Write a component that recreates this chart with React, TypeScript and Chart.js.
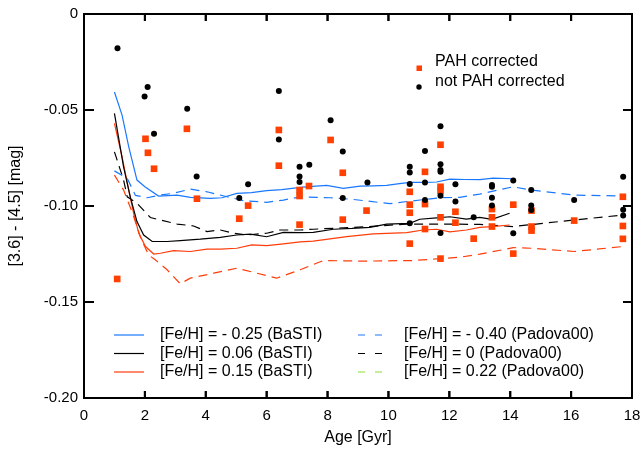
import React, { useEffect, useRef } from 'react';
import { Chart, registerables } from 'chart.js';

Chart.register(...registerables);

// ---- Data ----
const pahAges = [1.09, 2.02, 2.10, 2.30, 3.38, 3.71, 5.10, 5.39, 6.40, 6.40, 7.08, 7.08, 7.08, 7.39, 8.10, 8.50, 8.50, 9.28, 10.70, 10.70, 10.70, 10.70, 11.20, 11.20, 11.20, 11.71, 11.71, 11.71, 11.71, 11.71, 12.20, 12.20, 12.80, 13.40, 13.40, 13.40, 14.10, 14.10, 14.70, 14.70, 14.70, 16.10, 17.70, 17.70, 17.70];
const pahColors = [-0.138, -0.065, -0.0723, -0.0806, -0.0598, -0.0962, -0.1066, -0.0998, -0.0604, -0.079, -0.0917, -0.0948, -0.1097, -0.0896, -0.0656, -0.0827, -0.1071, -0.1024, -0.0926, -0.0993, -0.1035, -0.1196, -0.0822, -0.099, -0.112, -0.0681, -0.09, -0.0922, -0.1059, -0.1274, -0.103, -0.1087, -0.117, -0.1016, -0.1059, -0.1107, -0.0993, -0.1248, -0.1024, -0.1107, -0.1128, -0.1076, -0.0952, -0.1104, -0.1171];

const rawAges = [1.10, 1.99, 2.09, 2.30, 3.39, 3.70, 5.10, 5.39, 6.40, 6.40, 7.08, 7.08, 7.08, 7.40, 8.10, 8.50, 8.50, 9.31, 10.70, 10.70, 10.70, 10.70, 11.20, 11.20, 11.20, 11.71, 11.71, 11.71, 11.71, 11.71, 11.71, 12.20, 12.20, 12.80, 13.40, 13.40, 13.40, 13.40, 14.10, 14.10, 14.69, 14.69, 14.69, 16.10, 17.71, 17.71, 17.71];
const rawColors = [-0.0178, -0.043, -0.038, -0.0624, -0.0493, -0.0846, -0.0958, -0.0887, -0.0401, -0.0654, -0.0796, -0.0846, -0.0875, -0.0785, -0.0553, -0.0716, -0.0958, -0.0877, -0.0796, -0.0825, -0.0886, -0.109, -0.0714, -0.0877, -0.0969, -0.0584, -0.0783, -0.0813, -0.0822, -0.0946, -0.114, -0.0887, -0.0977, -0.1059, -0.089, -0.09, -0.0957, -0.0998, -0.0867, -0.1142, -0.0917, -0.0998, -0.1021, -0.0969, -0.0848, -0.1019, -0.105];

const bastiM025Ages = [1.0, 1.25, 1.47, 1.74, 2.0, 2.45, 3.06, 3.49, 4.15, 4.53, 5.02, 5.5, 6.0, 6.5, 7.1, 7.5, 7.97, 8.52, 9.07, 9.5, 9.94, 10.3, 10.7, 11.2, 11.58, 12.02, 12.5, 13.0, 13.44, 14.09];
const bastiM025Vals = [-0.0406, -0.0527, -0.0692, -0.0865, -0.090, -0.0948, -0.0943, -0.0955, -0.096, -0.0957, -0.0934, -0.093, -0.092, -0.0915, -0.0903, -0.0898, -0.0893, -0.0908, -0.0896, -0.0895, -0.0893, -0.0885, -0.0877, -0.0877, -0.0875, -0.086, -0.0862, -0.0863, -0.0855, -0.0858];

const basti006Ages = [1.0, 1.3, 1.52, 1.74, 1.96, 2.24, 2.73, 3.16, 3.82, 4.48, 5.02, 5.46, 6.0, 6.55, 7.1, 7.53, 8.19, 8.8, 9.39, 9.94, 10.7, 11.03, 11.58, 12.02, 12.56, 13.0, 13.4, 13.98];
const basti006Vals = [-0.0518, -0.0796, -0.0952, -0.1081, -0.1151, -0.1185, -0.1185, -0.118, -0.1173, -0.1163, -0.1151, -0.1147, -0.116, -0.1137, -0.1139, -0.1137, -0.1121, -0.1117, -0.1111, -0.1094, -0.109, -0.1069, -0.1062, -0.1056, -0.1068, -0.1059, -0.107, -0.1038];

const basti015Ages = [1.0, 1.25, 1.47, 1.63, 1.8, 2.02, 2.29, 2.51, 2.94, 3.49, 4.04, 4.48, 5.02, 5.51, 6.0, 6.55, 7.1, 7.53, 8.63, 9.5, 10.6, 11.14, 11.58, 12.02, 12.56, 13.0, 13.4, 13.98];
const basti015Vals = [-0.057, -0.0744, -0.0917, -0.1038, -0.1142, -0.1211, -0.125, -0.1246, -0.1232, -0.1237, -0.1225, -0.1225, -0.122, -0.1203, -0.1206, -0.1197, -0.1187, -0.1183, -0.116, -0.1145, -0.1139, -0.1125, -0.1121, -0.1135, -0.1125, -0.1111, -0.1107, -0.1099];

const padM040Ages = [1.0, 1.42, 1.69, 2.07, 2.51, 2.94, 3.49, 4.04, 4.7, 5.24, 6.0, 6.55, 7.1, 8.08, 8.8, 10.05, 10.7, 11.69, 12.34, 13.0, 14.09, 14.7, 16.1, 17.7];
const padM040Vals = [-0.0817, -0.0856, -0.0945, -0.0957, -0.0943, -0.0934, -0.0912, -0.0926, -0.0952, -0.0972, -0.0981, -0.0969, -0.0953, -0.0957, -0.0965, -0.0988, -0.0975, -0.0957, -0.0955, -0.0938, -0.09, -0.0917, -0.0943, -0.0948];

const pad000Ages = [1.0, 1.3, 1.42, 1.74, 2.18, 2.51, 3.06, 3.6, 4.04, 4.48, 4.91, 5.35, 6.0, 6.44, 7.1, 7.53, 9.28, 10.6, 11.9, 13.0, 14.09, 16.1, 17.7];
const pad000Vals = [-0.0718, -0.0865, -0.0952, -0.0986, -0.106, -0.1073, -0.1094, -0.1104, -0.1133, -0.1125, -0.1142, -0.1151, -0.1142, -0.1125, -0.1125, -0.1121, -0.1108, -0.1094, -0.1094, -0.1096, -0.1107, -0.1073, -0.1047];

const pad022Ages = [1.0, 1.3, 1.6, 1.85, 2.12, 2.34, 2.73, 3.16, 3.49, 4.26, 5.02, 5.68, 6.33, 7.1, 7.86, 9.17, 10.8, 12.34, 13.0, 14.1, 14.7, 16.1, 17.7];
const pad022Vals = [-0.0839, -0.0917, -0.104, -0.116, -0.1255, -0.128, -0.1332, -0.1405, -0.1376, -0.135, -0.1324, -0.135, -0.1376, -0.1332, -0.1284, -0.1287, -0.1284, -0.1267, -0.1251, -0.1217, -0.122, -0.1237, -0.1211];

const xTickStep = 2;
const yTickStep = 0.05;

const seriesLabels = {
  pah: 'PAH corrected',
  raw: 'not PAH corrected',
  b025: '[Fe/H] = - 0.25 (BaSTI)',
  b006: '[Fe/H] = 0.06 (BaSTI)',
  b015: '[Fe/H] = 0.15 (BaSTI)',
  p040: '[Fe/H] = - 0.40 (Padova00)',
  p000: '[Fe/H] = 0 (Padova00)',
  p022: '[Fe/H] = 0.22 (Padova00)',
};

// ---- Styles ----
const FONT = "'Liberation Sans', Arial, Helvetica, sans-serif";
const BLUE = '#1a78ff';
const RED = '#ff3d0a';
const SQUARE_RED = '#ff4000';
const BLACK = '#000000';
const LEGEND_GREEN = '#8be02a';

const zip = (xs: number[], ys: number[]) => xs.map((x, i) => ({ x, y: ys[i] }));

const strokeLine = (ctx: any, x1: number, y1: number, x2: number, y2: number) => {
  ctx.beginPath();
  ctx.moveTo(x1, y1);
  ctx.lineTo(x2, y2);
  ctx.stroke();
};

const drawFrame = (chart: any) => {
  const ctx = chart.ctx;
  const xs = chart.scales.x;
  const ys = chart.scales.y;
  const L = xs.getPixelForValue(xs.min);
  const R = xs.getPixelForValue(xs.max);
  const T = ys.getPixelForValue(ys.max);
  const B = ys.getPixelForValue(ys.min);
  ctx.save();
  ctx.fillStyle = '#000';
  ctx.fillRect(L - 1, T - 1, R - L + 2, 2);
  ctx.fillRect(L - 1, B - 1, R - L + 2, 2);
  ctx.fillRect(L - 1, T - 1, 2, B - T + 2);
  ctx.fillRect(R - 1, T - 1, 2, B - T + 2);
  for (const t of xs.ticks) {
    const px = xs.getPixelForValue(t.value);
    ctx.fillRect(px - 1, B - 7, 2, 7);
    ctx.fillRect(px - 1, T, 2, 7);
  }
  for (const t of ys.ticks) {
    const py = ys.getPixelForValue(t.value);
    ctx.fillRect(L, py - 1, 10, 2);
    ctx.fillRect(R - 9, py - 1, 9, 2);
  }
  ctx.restore();
};

const framePlugin = {
  id: 'frameTicks',
  afterDatasetsDraw(chart: any) {
    drawFrame(chart);
  },
  afterDraw(chart: any) {
    drawFrame(chart);
  },
};

const legendPlugin = {
  id: 'customLegend',
  afterDraw(chart: any) {
    const ctx = chart.ctx;
    const ds = chart.data.datasets;
    const find = (lbl: string) => ds.find((d: any) => d.label === lbl) || {};
    ctx.save();
    ctx.font = `16px ${FONT}`;
    ctx.textBaseline = 'middle';
    ctx.textAlign = 'left';
    ctx.fillStyle = '#000';
    ctx.lineWidth = 1.2;
    const rows = [335, 353.5, 372];
    const leftCol = [seriesLabels.b025, seriesLabels.b006, seriesLabels.b015];
    const rightCol = [seriesLabels.p040, seriesLabels.p000, seriesLabels.p022];
    leftCol.forEach((lbl, i) => {
      const d: any = find(lbl);
      ctx.strokeStyle = d.borderColor || '#000';
      ctx.setLineDash([]);
      strokeLine(ctx, 114, rows[i], 144, rows[i]);
      ctx.fillText(lbl, 160, rows[i]);
    });
    rightCol.forEach((lbl, i) => {
      const d: any = find(lbl);
      ctx.strokeStyle = d.legendColor || d.borderColor || '#000';
      ctx.setLineDash([7, 10]);
      strokeLine(ctx, 358, rows[i], 383, rows[i]);
      ctx.setLineDash([]);
      ctx.fillText(lbl, 404, rows[i]);
    });
    const pah: any = find(seriesLabels.pah);
    const raw: any = find(seriesLabels.raw);
    ctx.fillStyle = pah.backgroundColor || SQUARE_RED;
    ctx.fillRect(416.5, 65.5, 5.5, 5.5);
    ctx.fillStyle = raw.backgroundColor || BLACK;
    ctx.beginPath();
    ctx.arc(419, 87, 2.7, 0, Math.PI * 2);
    ctx.fill();
    ctx.fillStyle = '#000';
    ctx.fillText(seriesLabels.pah, 435, 62);
    ctx.fillText(seriesLabels.raw, 435, 82);
    ctx.restore();
  },
};

export default function App() {
  const ref = useRef<HTMLCanvasElement | null>(null);
  useEffect(() => {
    if (!ref.current) return;
    Chart.defaults.color = '#000';
    const lineDs = (label: string, xs: number[], ys: number[], color: string, dashed: boolean, extra: any = {}) => ({
      label,
      data: zip(xs, ys),
      showLine: true,
      borderColor: color,
      backgroundColor: color,
      borderWidth: 1.2,
      borderDash: dashed ? [9, 6] : [],
      pointRadius: 0,
      pointHoverRadius: 0,
      tension: 0,
      ...extra,
    });
    const chart = new Chart(ref.current, {
      type: 'scatter',
      data: {
        datasets: [
          {
            label: seriesLabels.raw,
            data: zip(rawAges, rawColors),
            pointStyle: 'circle',
            pointRadius: 3,
            backgroundColor: BLACK,
            borderColor: BLACK,
            borderWidth: 0,
          },
          {
            label: seriesLabels.pah,
            data: zip(pahAges, pahColors),
            pointStyle: 'rect',
            pointRadius: 4.7,
            backgroundColor: SQUARE_RED,
            borderColor: SQUARE_RED,
            borderWidth: 0,
          },
          lineDs(seriesLabels.b025, bastiM025Ages, bastiM025Vals, BLUE, false),
          lineDs(seriesLabels.b006, basti006Ages, basti006Vals, BLACK, false),
          lineDs(seriesLabels.b015, basti015Ages, basti015Vals, RED, false),
          lineDs(seriesLabels.p040, padM040Ages, padM040Vals, BLUE, true),
          lineDs(seriesLabels.p000, pad000Ages, pad000Vals, BLACK, true),
          lineDs(seriesLabels.p022, pad022Ages, pad022Vals, RED, true, { legendColor: LEGEND_GREEN }),
        ] as any,
      },
      options: {
        animation: false,
        responsive: false,
        devicePixelRatio: 1,
        layout: { padding: { top: 14, right: 12, left: 0, bottom: 0 } },
        plugins: {
          legend: { display: false },
          tooltip: { enabled: false },
        },
        scales: {
          x: {
            type: 'linear',
            min: 0,
            max: 18,
            ticks: {
              stepSize: xTickStep,
              padding: 9,
              maxRotation: 0,
              color: '#000',
              font: { family: FONT, size: 15 },
            },
            grid: { display: false, drawTicks: false },
            border: { display: true, width: 2, color: '#000' },
            title: {
              display: true,
              text: 'Age [Gyr]',
              color: '#000',
              font: { family: FONT, size: 16 },
              padding: { top: 0, bottom: 2 },
            },
            afterFit: (s: any) => {
              s.height = 51;
              s.paddingLeft = 0;
              s.paddingRight = 0;
            },
          },
          y: {
            type: 'linear',
            min: -0.2,
            max: 0,
            ticks: {
              stepSize: yTickStep,
              padding: 6,
              color: '#000',
              font: { family: FONT, size: 15 },
              callback: (v: any) => (Math.abs(Number(v)) < 1e-9 ? '0' : Number(v).toFixed(2)),
            },
            grid: { display: false, drawTicks: false },
            border: { display: true, width: 2, color: '#000' },
            title: {
              display: true,
              text: '[3.6] - [4.5] [mag]',
              color: '#000',
              font: { family: FONT, size: 16 },
              padding: { top: 6, bottom: 0 },
            },
            afterFit: (s: any) => {
              s.width = 84;
              s.paddingTop = 0;
              s.paddingBottom = 0;
            },
          },
        },
      } as any,
      plugins: [framePlugin, legendPlugin],
    });
    return () => chart.destroy();
  }, []);

  return (
    <div style={{ position: 'fixed', left: 0, top: 0, width: 644, height: 449, background: '#fff' }}>
      <canvas ref={ref} width={644} height={449} style={{ display: 'block', width: 644, height: 449 }} />
    </div>
  );
}
